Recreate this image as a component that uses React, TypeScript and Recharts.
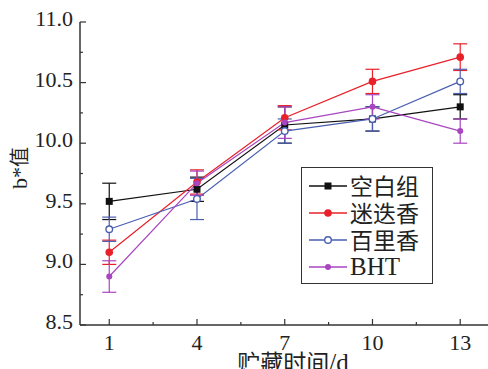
import React from "react";
import {
  ErrorBar,
  Legend,
  Line,
  LineChart,
  XAxis,
  YAxis,
} from "recharts";

const days = [1, 4, 7, 10, 13];
const blank = [9.52, 9.62, 10.15, 10.2, 10.3];
const blankErr = [0.15, 0.1, 0.15, 0.1, 0.1];
const rosemary = [9.1, 9.68, 10.21, 10.51, 10.71];
const rosemaryErr = [0.1, 0.1, 0.1, 0.1, 0.11];
const thyme = [9.29, 9.54, 10.1, 10.2, 10.51];
const thymeErr = [0.1, 0.17, 0.1, 0.1, 0.1];
const bht = [8.9, 9.67, 10.17, 10.3, 10.1];
const bhtErr = [0.13, 0.1, 0.13, 0.1, 0.1];

const xMajor = [1, 4, 7, 10, 13];
const xMinor = [2.5, 5.5, 8.5, 11.5];
const yMajor = [8.5, 9.0, 9.5, 10.0, 10.5, 11.0];
const yMinor = [8.75, 9.25, 9.75, 10.25, 10.75];

const series = [
  { key: "blank", name: "空白组", color: "#111111", marker: "square" },
  { key: "rosemary", name: "迷迭香", color: "#e8202a", marker: "filled" },
  { key: "thyme", name: "百里香", color: "#4a5fb0", marker: "open" },
  { key: "bht", name: "BHT", color: "#a845c0", marker: "small" },
];

const data = days.map((d, i) => ({
  day: d,
  blank: blank[i],
  blankErr: blankErr[i],
  rosemary: rosemary[i],
  rosemaryErr: rosemaryErr[i],
  thyme: thyme[i],
  thymeErr: thymeErr[i],
  bht: bht[i],
  bhtErr: bhtErr[i],
}));

const serif = "'Liberation Serif', 'Times New Roman', serif";
const cjk = "'Noto Sans CJK SC', sans-serif";
const axisColor = "#333";

function Marker({ cx, cy, kind, color }: any) {
  if (cx == null || cy == null) return null;
  if (kind === "square")
    return <rect x={cx - 3.5} y={cy - 3.5} width={7} height={7} fill={color} />;
  if (kind === "open")
    return <circle cx={cx} cy={cy} r={3.3} fill="#fff" stroke={color} strokeWidth={1.4} />;
  if (kind === "small") return <circle cx={cx} cy={cy} r={3} fill={color} />;
  return <circle cx={cx} cy={cy} r={3.8} fill={color} />;
}

function XTick({ x, y, payload }: any) {
  const major = xMajor.includes(payload.value);
  return (
    <g>
      <line x1={x} x2={x} y1={y} y2={y - (major ? 6 : 3)} stroke={axisColor} strokeWidth={1.2} />
      {major && (
        <text x={x} y={y + 25} textAnchor="middle" fontFamily={serif} fontSize={22} fill="#222">
          {payload.value}
        </text>
      )}
    </g>
  );
}

function YTick({ x, y, payload }: any) {
  const major = yMajor.includes(payload.value);
  return (
    <g>
      <line x1={x} x2={x + (major ? 6 : 3)} y1={y} y2={y} stroke={axisColor} strokeWidth={1.2} />
      {major && (
        <text x={x - 7} y={y + 4} textAnchor="end" fontFamily={serif} fontSize={22} fill="#222">
          {payload.value.toFixed(1)}
        </text>
      )}
    </g>
  );
}

function LegendBox() {
  return (
    <div
      style={{
        border: "1.5px solid #333",
        background: "#fff",
        padding: "4px 0 4px 7px",
        boxSizing: "border-box",
        width: 132,
        height: 117,
      }}
    >
      {series.map((s) => (
        <div key={s.key} style={{ display: "flex", alignItems: "center", height: 27 }}>
          <svg width={38} height={12}>
            <line x1={0} x2={38} y1={6} y2={6} stroke={s.color} strokeWidth={1.3} />
            <Marker cx={19} cy={6} kind={s.marker} color={s.color} />
          </svg>
          <span
            style={{
              marginLeft: 3,
              fontFamily: s.key === "bht" ? serif : cjk,
              fontSize: s.key === "bht" ? 25 : 23,
              color: "#222",
              lineHeight: 1,
            }}
          >
            {s.name}
          </span>
        </div>
      ))}
    </div>
  );
}

export default function App() {
  return (
    <div style={{ position: "absolute", left: 0, top: 0, width: 488, height: 369, background: "#fff" }}>
      <LineChart
        width={488}
        height={369}
        data={data}
        margin={{ top: 22, right: 0, bottom: 0, left: 0 }}
      >
        <XAxis
          dataKey="day"
          type="number"
          domain={[0, 13.95]}
          ticks={[...xMajor, ...xMinor].sort((a, b) => a - b)}
          tick={<XTick />}
          tickLine={false}
          tickSize={0}
          tickMargin={0}
          height={44}
          axisLine={{ stroke: axisColor, strokeWidth: 1.5 }}
          allowDataOverflow
          label={{
            content: () => (
              <text x={293} y={371} textAnchor="middle" fill="#222">
                <tspan fontFamily={cjk} fontSize={23}>贮藏时间</tspan>
                <tspan fontFamily={serif} fontSize={25}>/d</tspan>
              </text>
            ),
          }}
        />
        <XAxis
          xAxisId="top"
          orientation="top"
          dataKey="day"
          type="number"
          domain={[0, 13.95]}
          tick={false}
          tickLine={false}
          height={0}
          axisLine={{ stroke: axisColor, strokeWidth: 1.5 }}
        />
        <YAxis
          type="number"
          domain={[8.5, 11]}
          ticks={[...yMajor, ...yMinor].sort((a, b) => a - b)}
          tick={<YTick />}
          tickLine={false}
          tickSize={0}
          tickMargin={0}
          width={80}
          axisLine={{ stroke: axisColor, strokeWidth: 1.5 }}
          allowDataOverflow
          label={{
            content: () => (
              <text
                x={27}
                y={168}
                transform="rotate(-90 27 168)"
                textAnchor="middle"
                fill="#222"
              >
                <tspan fontFamily={serif} fontSize={22}>b*</tspan>
                <tspan fontFamily={cjk} fontSize={20}>值</tspan>
              </text>
            ),
          }}
        />
        <Legend
          layout="vertical"
          align="center"
          verticalAlign="middle"
          content={<LegendBox />}
          wrapperStyle={{ left: 301, top: 167, width: 132, height: 117 }}
        />
        {series.map((s) => (
          <Line
            key={s.key}
            dataKey={s.key}
            name={s.name}
            stroke={s.color}
            strokeWidth={1.2}
            isAnimationActive={false}
            dot={(p: any) => (
              <Marker key={`${s.key}-${p.index}`} cx={p.cx} cy={p.cy} kind={s.marker} color={s.color} />
            )}
            activeDot={false}
          >
            <ErrorBar dataKey={`${s.key}Err`} width={7} stroke={s.color} strokeWidth={1.2} direction="y" />
          </Line>
        ))}
      </LineChart>
    </div>
  );
}
